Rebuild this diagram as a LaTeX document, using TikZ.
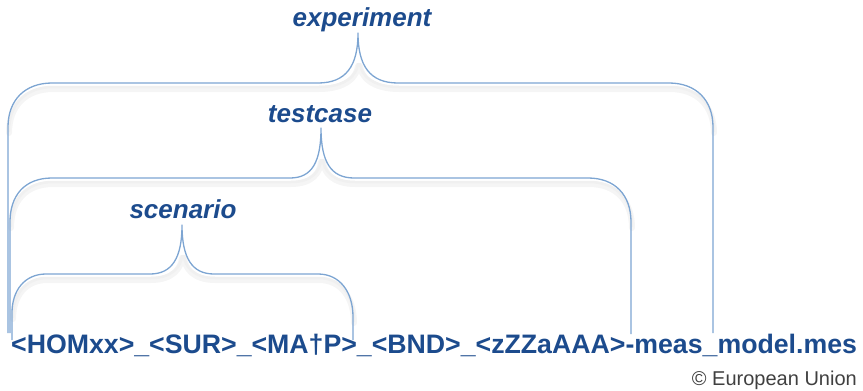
\documentclass[tikz,border=0pt]{standalone}
\usepackage{fontspec}
\setmainfont{Liberation Sans}
\definecolor{txtblue}{HTML}{1C4B8D}
\definecolor{brace}{HTML}{7DA5D2}
\begin{document}
\begin{tikzpicture}[x=1pt,y=-1pt,
  lbl/.style={font=\fontsize{26}{30}\selectfont\bfseries\itshape, text=txtblue, inner sep=0pt, anchor=base},
  bracel/.style={draw=brace, line width=1.3pt, line join=round},
  shadowl/.style={draw=black!4, line width=6pt, line join=round, line cap=round},
  shadowm/.style={draw=black!6, line width=2.5pt, line join=round, line cap=round}]
\useasboundingbox (0,0) rectangle (863,391);

% labels
\node[lbl] (exp) at (362,26) {experiment};
\node[lbl] (tc) at (320,122) {testcase};
\node[lbl] (sc) at (183,218) {scenario};
\node[font=\fontsize{26.7}{30}\selectfont\bfseries, text=txtblue, inner sep=0pt, anchor=base west] (name) at (11,353)
  {<HOMxx>\_<SUR>\_<MA†P>\_<BND>\_<zZZaAAA>-meas\_model.mes};
\node[font=\fontsize{20}{24}\selectfont, text=black!75, inner sep=0pt, anchor=base east] (copy) at (857,385) {© European Union};

% tips of braces
\coordinate (etip) at (358,33);
\coordinate (ttip) at (321,128);
\coordinate (stip) at (182,225);

% soft shadows
\foreach \dx/\dy/\st in {1/6/shadowl,1/4/shadowm}{
\begin{scope}[shift={(\dx,\dy)}]
\path[\st] (8,127) .. controls (8,100) and (25,83) .. (52,83) -- (318,83) .. controls (346,83) and (356,70) .. (357,60)
  (359,60) .. controls (360,70) and (370,83) .. (398,83) -- (669,83) .. controls (696,83) and (713,100) .. (713,127);
\path[\st] (10,222) .. controls (10,195) and (25,178) .. (52,178) -- (290,178) .. controls (312,178) and (319,166) .. (320,156)
  (322,156) .. controls (323,166) and (331,178) .. (354,178) -- (588,178) .. controls (615,178) and (631,195) .. (631,222);
\path[\st] (12,313) .. controls (12,290) and (25,274) .. (46,274) -- (150,274) .. controls (172,274) and (180,262) .. (181,252)
  (183,252) .. controls (184,262) and (192,274) .. (214,274) -- (318,274) .. controls (340,274) and (353,292) .. (353,317);
\end{scope}}

% experiment brace
\path[bracel] (8,333) -- (8,127) .. controls (8,100) and (25,83) .. (52,83) -- (318,83)
  .. controls (346,83) and (358,66) .. (etip)
  .. controls (358,66) and (370,83) .. (398,83) -- (669,83)
  .. controls (696,83) and (713,100) .. (713,127) -- (713,333);

% testcase brace
\path[bracel] (10,333) -- (10,222) .. controls (10,195) and (25,178) .. (52,178) -- (290,178)
  .. controls (312,178) and (321,162) .. (ttip)
  .. controls (321,162) and (331,178) .. (354,178) -- (588,178)
  .. controls (615,178) and (631,195) .. (631,222) -- (631,334);

% scenario brace
\path[bracel] (12,340) -- (12,313) .. controls (12,290) and (25,274) .. (46,274) -- (150,274)
  .. controls (172,274) and (182,258) .. (stip)
  .. controls (182,258) and (192,274) .. (214,274) -- (318,274)
  .. controls (340,274) and (353,292) .. (353,317) -- (353,340);
\end{tikzpicture}
\end{document}
